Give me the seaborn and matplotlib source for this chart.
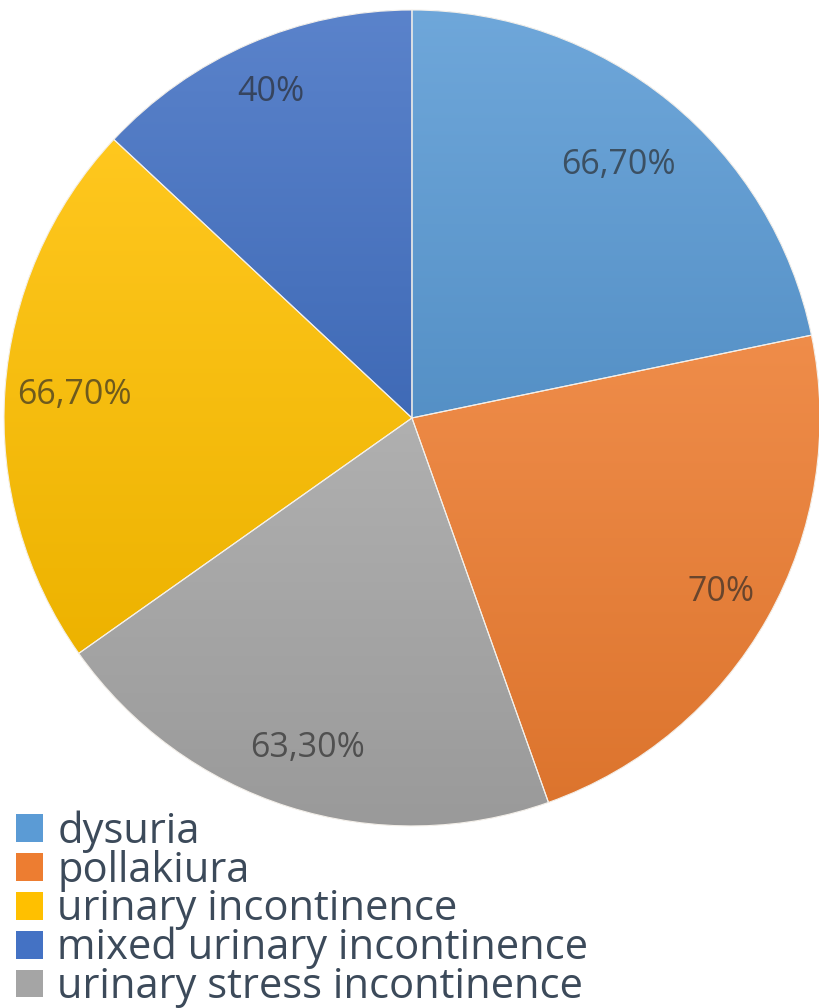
import numpy as np
import matplotlib
matplotlib.use("Agg")
import matplotlib.pyplot as plt
import seaborn as sns
from matplotlib.patches import Patch, Wedge
from matplotlib.colors import to_rgb

# ---- data (clockwise from 12 o'clock) ----
pie_categories = ["dysuria", "pollakiura", "urinary stress incontinence",
                  "urinary incontinence", "mixed urinary incontinence"]
pie_values = [66.7, 70.0, 63.3, 66.7, 40.0]
pie_labels = ["66,70%", "70%", "63,30%", "66,70%", "40%"]

legend_order = ["dysuria", "pollakiura", "urinary incontinence",
                "mixed urinary incontinence", "urinary stress incontinence"]

color_map = {
    "dysuria": "#5b9bd5",
    "pollakiura": "#ed7d31",
    "urinary stress incontinence": "#a5a5a5",
    "urinary incontinence": "#ffc000",
    "mixed urinary incontinence": "#4472c4",
}

# radial placement of each data label (fraction of radius)
label_dist = [0.80, 0.87, 0.85, 0.83, 0.87]

sns.set_theme(style="white")
plt.rcParams["font.family"] = ["Open Sans", "DejaVu Sans"]

fig = plt.figure(figsize=(8.2, 10.08), dpi=100)
ax = fig.add_axes([0.0024, 0.1786, 1.0, 0.8135])

palette = sns.color_palette([color_map[c] for c in pie_categories])
wedges, texts = ax.pie(pie_values, labels=pie_labels, colors=palette,
                       startangle=90, counterclock=False, labeldistance=0.85,
                       wedgeprops=dict(edgecolor="none", linewidth=0))

def mix(c, other, t):
    c = np.array(to_rgb(c)); o = np.array(to_rgb(other))
    return (1 - t) * c + t * o

# per-slice vertical gradient (lighter top, darker bottom)
for w, cat in zip(wedges, pie_categories):
    verts = w.get_path().vertices
    ymin, ymax = verts[:, 1].min(), verts[:, 1].max()
    xmin, xmax = verts[:, 0].min(), verts[:, 0].max()
    top = mix(color_map[cat], "white", 0.12)
    bot = mix(color_map[cat], "black", 0.07)
    n = 256
    t = np.linspace(0, 1, n)[:, None]
    img = (1 - t) * top + t * bot
    img = img[:, None, :]
    im = ax.imshow(img, extent=(xmin, xmax, ymin, ymax), origin="upper",
                   aspect="auto", zorder=2, interpolation="bilinear")
    im.set_clip_path(w)

# thin slice borders
for w in wedges:
    e = Wedge(w.center, w.r, w.theta1, w.theta2, facecolor="none",
              edgecolor="#f4f0ea", linewidth=0.8, zorder=3)
    ax.add_patch(e)

for t, w, d in zip(texts, wedges, label_dist):
    ang = np.deg2rad((w.theta1 + w.theta2) / 2)
    t.set_position((d * w.r * np.cos(ang), d * w.r * np.sin(ang)))
    t.set_ha("center")
    t.set_va("center")
    t.set_fontsize(24.5)
    t.set_color("#262626")
    t.set_alpha(0.65)
    t.set_zorder(4)

lim = 1.005
ax.set_xlim(-lim, lim)
ax.set_ylim(-lim, lim)
ax.set_aspect("equal")
ax.axis("off")

handles = [Patch(facecolor=color_map[c], edgecolor="none") for c in legend_order]
leg = fig.legend(handles, legend_order, loc="upper left",
                 bbox_to_anchor=(0.02, 0.196), frameon=False,
                 fontsize=30, labelspacing=-0.08, handlelength=0.65,
                 handleheight=0.65, handletextpad=0.33, borderpad=0,
                 borderaxespad=0, labelcolor="#3c4a5a")

fig.savefig("out.png", dpi=100, facecolor="white")
